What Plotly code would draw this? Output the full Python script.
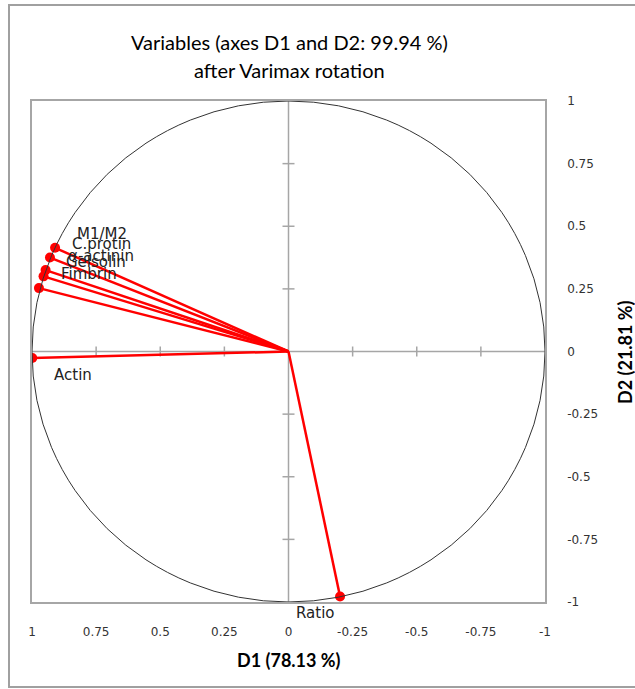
import plotly.graph_objects as go

# ---- data ----
variables = ["M1/M2", "C.protin", "α-actinin", "Gelsolin", "Fimbrin", "Actin", "Ratio"]
d1_values = [0.910, 0.930, 0.947, 0.955, 0.973, 0.999, -0.201]
d2_values = [0.414, 0.375, 0.325, 0.300, 0.253, -0.026, -0.978]
tick_values = [1, 0.75, 0.5, 0.25, 0, -0.25, -0.5, -0.75, -1]
tick_labels = ["1", "0.75", "0.5", "0.25", "0", "-0.25", "-0.5", "-0.75", "-1"]
title_lines = ["Variables (axes D1 and D2: 99.94 %)", "after Varimax rotation"]
x_title = "D1 (78.13 %)"
y_title = "D2 (21.81 %)"

# label placement: (xanchor, xshift, yshift)
placement = {
    "above": ("left", 20, 14),
    "below": ("left", 20, -17),
    "belowleft": ("center", -25, -17),
}
label_side = ["above", "above", "above", "above", "above", "below", "belowleft"]

W, H = 635, 689
L, R, T, B = 32, 90, 101, 87
pw, ph = W - L - R, H - T - B


def px2paper_x(p):
    return (p - L) / pw


def px2paper_y(p):
    return 1 - (p - T) / ph


fig = go.Figure()

# vectors from origin
for xv, yv in zip(d1_values, d2_values):
    fig.add_trace(go.Scatter(x=[0, xv], y=[0, yv], mode="lines",
                             line=dict(color="#ff0000", width=2.5),
                             hoverinfo="skip", showlegend=False))
fig.add_trace(go.Scatter(x=d1_values, y=d2_values, mode="markers",
                         marker=dict(color="#ff0000", size=10),
                         text=variables, hoverinfo="text", showlegend=False))

# variable labels
for name, xv, yv, side in zip(variables, d1_values, d2_values, label_side):
    xa, xs, ys = placement[side]
    fig.add_annotation(x=xv, y=yv, text=name, showarrow=False,
                       xanchor=xa, yanchor="middle", xshift=xs, yshift=ys,
                       font=dict(family="DejaVu Sans", size=15, color="#222222"))

# title lines
for i, line in enumerate(title_lines):
    fig.add_annotation(xref="paper", yref="paper",
                       x=px2paper_x(289), y=px2paper_y(42 + 28 * i),
                       text=line, showarrow=False, xanchor="center", yanchor="middle",
                       font=dict(family="Lato", size=20, color="#000000"))

# axis titles
fig.add_annotation(xref="paper", yref="paper", x=px2paper_x(289), y=px2paper_y(660),
                   text="<b>" + x_title + "</b>", showarrow=False,
                   xanchor="center", yanchor="middle",
                   font=dict(family="Lato", size=18, color="#000000"))
fig.add_annotation(xref="paper", yref="paper", x=px2paper_x(625), y=px2paper_y(352),
                   text="<b>" + y_title + "</b>", showarrow=False, textangle=-90,
                   xanchor="center", yanchor="middle",
                   font=dict(family="Lato", size=18, color="#000000"))

shapes = []
# unit circle
shapes.append(dict(type="circle", xref="x", yref="y", x0=-1, y0=-1, x1=1, y1=1,
                   line=dict(color="#333333", width=1)))
# zero axes
shapes.append(dict(type="line", xref="x", yref="y", x0=-1, x1=1, y0=0, y1=0,
                   line=dict(color="#a6a6a6", width=1.5), layer="below"))
shapes.append(dict(type="line", xref="x", yref="y", x0=0, x1=0, y0=-1, y1=1,
                   line=dict(color="#a6a6a6", width=1.5), layer="below"))
# tick marks crossing zero axes
for tv in tick_values:
    if tv in (0, 1, -1):
        continue
    shapes.append(dict(type="line", xref="x", yref="y", x0=tv, x1=tv,
                       ysizemode="pixel", yanchor=0, y0=-5, y1=5,
                       line=dict(color="#a6a6a6", width=1.5), layer="below"))
    shapes.append(dict(type="line", xref="x", yref="y", y0=tv, y1=tv,
                       xsizemode="pixel", xanchor=0, x0=-6, x1=6,
                       line=dict(color="#a6a6a6", width=1.5), layer="below"))
# outer border
shapes.append(dict(type="rect", xref="paper", yref="paper",
                   x0=px2paper_x(9), x1=px2paper_x(640),
                   y0=px2paper_y(687), y1=px2paper_y(5),
                   line=dict(color="#a0a0a0", width=2), layer="below"))

fig.update_layout(
    width=W, height=H,
    margin=dict(l=L, r=R, t=T, b=B, autoexpand=False),
    paper_bgcolor="white", plot_bgcolor="white",
    shapes=shapes,
    xaxis=dict(range=[1, -1], tickvals=tick_values, ticktext=tick_labels,
               showgrid=False, zeroline=False, ticks="", automargin=False,
               showline=True, mirror=True, linecolor="#a6a6a6", linewidth=1.5,
               ticklabelstandoff=18,
               tickfont=dict(family="DejaVu Sans", size=12, color="#333333")),
    yaxis=dict(range=[-1, 1], tickvals=tick_values, ticktext=tick_labels,
               side="right", showgrid=False, zeroline=False, ticks="", automargin=False,
               showline=True, mirror=True, linecolor="#a6a6a6", linewidth=1.5,
               ticklabelstandoff=18,
               tickfont=dict(family="DejaVu Sans", size=12, color="#333333")),
)

fig.write_html("out.html", config={"displayModeBar": False},
               post_script="document.body.style.margin='0';document.body.style.overflow='hidden';")
